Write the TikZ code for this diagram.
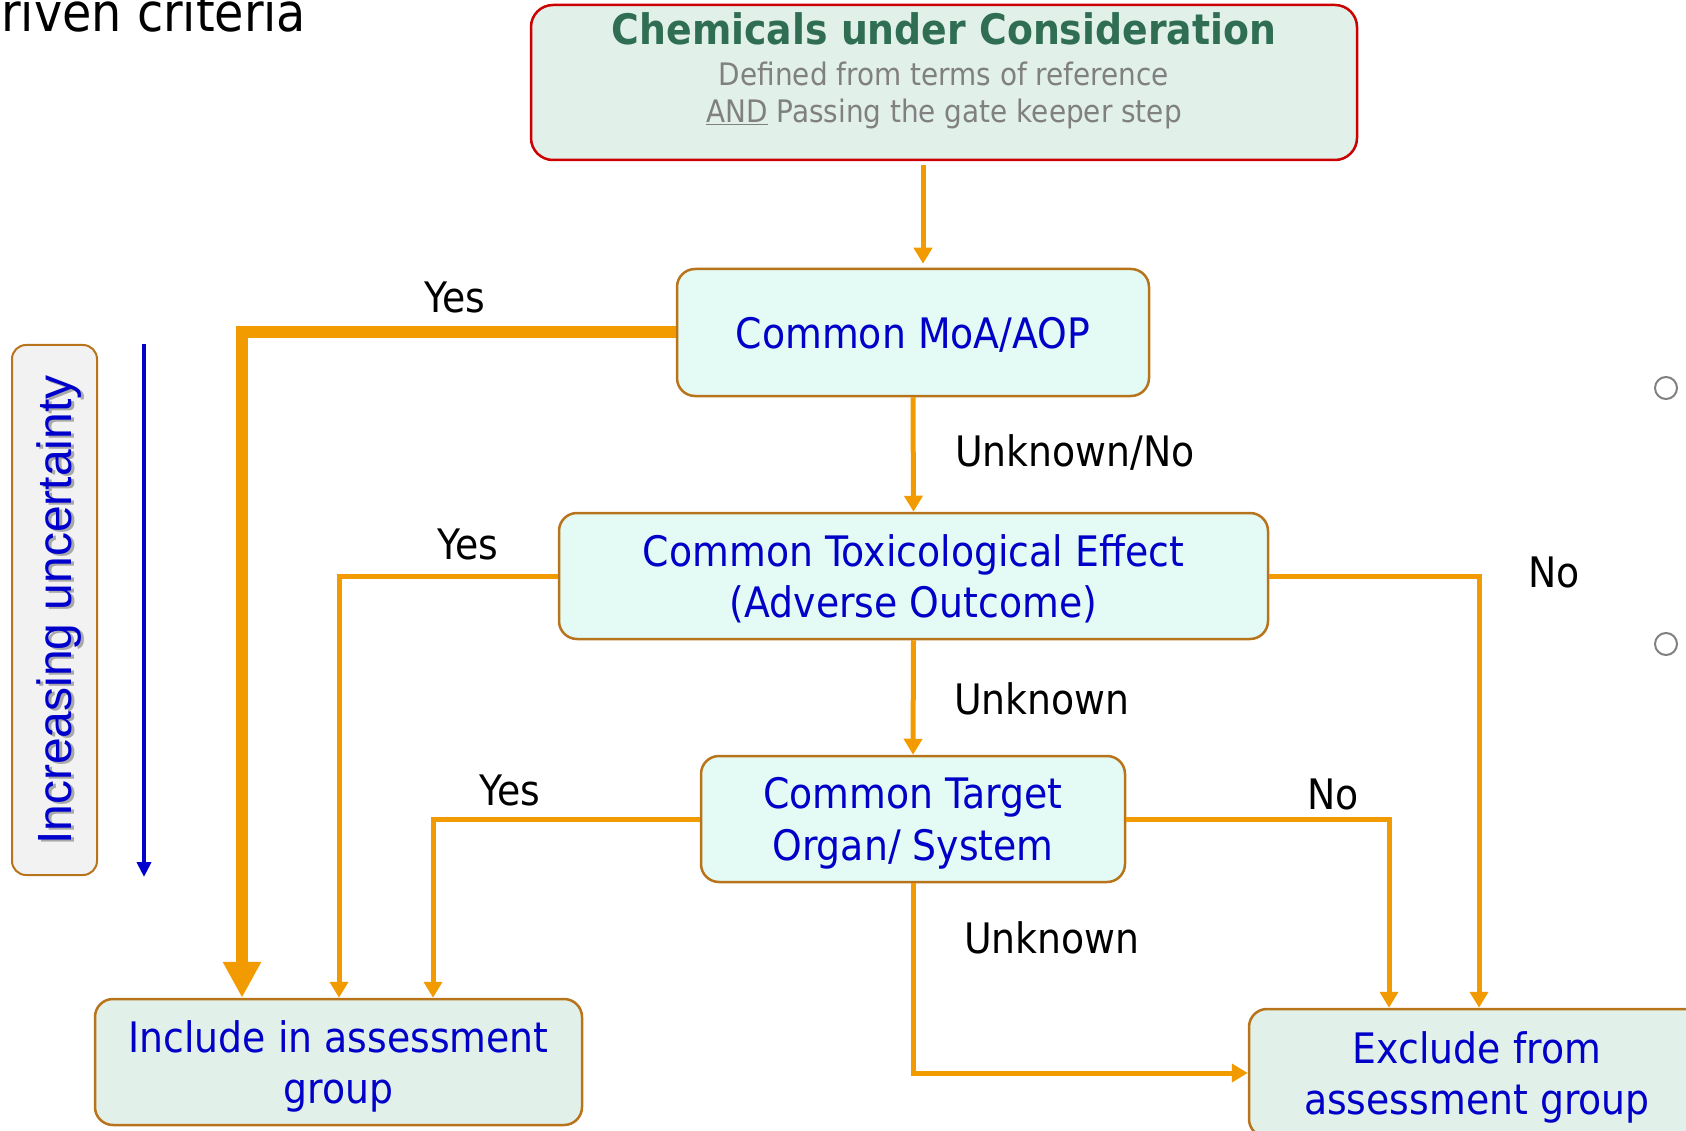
\documentclass[tikz,border=0pt]{standalone}
\usepackage{fontspec}
\setmainfont{DejaVu Sans}[FakeStretch=0.9]
\newfontfamily\arialf{Liberation Sans}
\usetikzlibrary{arrows.meta}
\definecolor{boxedge}{RGB}{184,116,26}
\definecolor{redge}{RGB}{204,0,0}
\definecolor{mint}{RGB}{227,250,245}
\definecolor{pale}{RGB}{226,240,234}
\definecolor{greybox}{RGB}{242,242,242}
\definecolor{txtblue}{RGB}{0,0,200}
\definecolor{titlegreen}{RGB}{47,110,83}
\definecolor{subgrey}{RGB}{128,128,128}
\definecolor{arrorange}{RGB}{242,155,0}
\definecolor{ublue}{RGB}{0,0,204}
\begin{document}
\begin{tikzpicture}[x=1pt,y=-1pt,
  box/.style={draw=boxedge, line width=2.5pt, rounded corners=18pt, fill=#1,
    inner sep=0pt, align=center, text=txtblue, text depth=0pt, font=\fontsize{42}{51.6}\selectfont},
  conn/.style={draw=arrorange, line width=5pt, -{Triangle[length=16pt,width=18pt]}},
  thickconn/.style={draw=arrorange, line width=12pt, -{Triangle[length=36pt,width=36pt]}},
  lbl/.style={inner sep=0pt, text=black, font=\fontsize{42}{50}\selectfont},
  bluearr/.style={draw=ublue, line width=4pt, -{Triangle[length=15pt,width=14pt]}},
  dot/.style={circle, draw=subgrey, line width=2pt, minimum size=22pt, inner sep=0pt}
]
\useasboundingbox (0,0) rectangle (1686,1131);

% top-left fragment
\node[anchor=base west, inner sep=0pt, font=\fontsize{53}{60}\selectfont] (frag) at (1,32) {riven criteria};

% top box
\node[draw=redge, line width=2.5pt, rounded corners=22pt, fill=pale, minimum width=826pt,
  minimum height=155pt, inner sep=0pt] (top) at (944,82.5) {};
\node[inner sep=0pt, text=titlegreen, font=\bfseries\fontsize{42}{50}\selectfont] (t1) at (944,29) {Chemicals under Consideration};
\node[inner sep=0pt, text=subgrey, font=\fontsize{31}{38}\selectfont] (t2) at (944,74) {Defined from terms of reference};
\node[inner sep=0pt, text=subgrey, font=\fontsize{31}{38}\selectfont] (t3) at (944,114) {\underline{AND} Passing the gate keeper step};

% decision boxes
\node[box=mint, minimum width=472pt, minimum height=127pt] (moa) at (913,332.5) {Common MoA/AOP};
\node[box=mint, minimum width=709pt, minimum height=126pt] (tox) at (913.5,576) {Common Toxicological Effect\\(Adverse Outcome)};
\node[box=mint, minimum width=424pt, minimum height=126pt] (tgt) at (913,819) {Common Target\\Organ/ System};
\node[box=pale, minimum width=487pt, minimum height=126pt] (inc) at (338.5,1062) {Include in assessment\\group};
\node[box=pale, minimum width=456pt, minimum height=128pt] (exc) at (1477,1073) {Exclude from\\assessment group};

% uncertainty box
\node[draw=boxedge, line width=2pt, rounded corners=14pt, fill=greybox, minimum width=85pt,
  minimum height=530pt, inner sep=0pt] (unc) at (54.5,610) {};
\node[rotate=90, inner sep=0pt, text=black, opacity=0.3, font=\arialf\fontsize{48}{56}\selectfont] (uncs) at (62,612) {Increasing uncertainty};
\node[rotate=90, inner sep=0pt, text=ublue, font=\arialf\fontsize{48}{56}\selectfont] (unct) at (59,610) {Increasing uncertainty};
\coordinate (u1) at (144,344);
\coordinate (u2) at (144,877);
\draw[bluearr] (u1) -- (u2);

% side circles
\node[dot] (d1) at (1666,388) {};
\node[dot] (d2) at (1666,644) {};

% connectors
\coordinate (topx) at (923,0);
\draw[conn, shorten <=4pt, shorten >=4pt] (top.south -| topx) -- (moa.north -| topx);
\coordinate (c1) at (242,0);
\draw[thickconn] (moa.west) -- (moa.west -| c1) -- (inc.north -| c1);
\draw[conn] (moa.south) -- (tox.north);
\coordinate (c2) at (339,0);
\draw[conn] (tox.west) -- (tox.west -| c2) -- (inc.north -| c2);
\coordinate (c4) at (1479,0);
\draw[conn] (tox.east) -- (tox.east -| c4) -- (exc.north -| c4);
\draw[conn] (tox.south) -- (tgt.north);
\coordinate (c3) at (433,0);
\draw[conn] (tgt.west) -- (tgt.west -| c3) -- (inc.north -| c3);
\coordinate (c5) at (1389,0);
\draw[conn] (tgt.east) -- (tgt.east -| c5) -- (exc.north -| c5);
\draw[conn] (tgt.south) -- (tgt.south |- exc.west) -- (exc.west);

% labels
\node[lbl] (y1) at (455,297) {Yes};
\node[lbl] (l1) at (1075,452) {Unknown/No};
\node[lbl] (y2) at (468,544) {Yes};
\node[lbl] (n1) at (1554,572) {No};
\node[lbl] (l2) at (1042,699) {Unknown};
\node[lbl] (y3) at (510,790) {Yes};
\node[lbl] (n2) at (1333,794) {No};
\node[lbl] (l3) at (1052,938) {Unknown};
\end{tikzpicture}
\end{document}
